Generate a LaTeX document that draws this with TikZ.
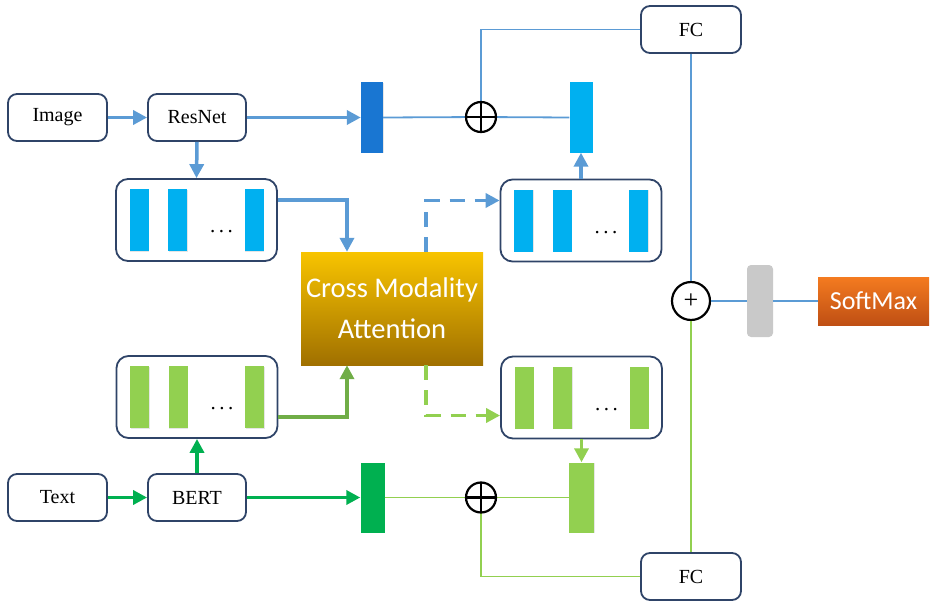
\documentclass[tikz,border=0pt]{standalone}
\usepackage{fontspec}
\setmainfont{Liberation Serif}
\newfontfamily\calfont{Carlito}
\usetikzlibrary{arrows.meta,shadows}
\definecolor{boxc}{HTML}{2F4468}
\definecolor{ablue}{HTML}{5B9BD5}
\definecolor{agreen}{HTML}{00B050}
\definecolor{mgreen}{HTML}{70AD47}
\definecolor{lgreen}{HTML}{92D050}
\definecolor{lblue}{HTML}{00B0F0}
\definecolor{dblue}{HTML}{1976D2}
\definecolor{cmat}{HTML}{F8C400}
\definecolor{cmab}{HTML}{A07000}
\definecolor{smt}{HTML}{F47B20}
\definecolor{smb}{HTML}{BF4F14}
\definecolor{greyb}{HTML}{C9C9C9}
\newcommand\featbox[4]{%
  \node[fbox] (#1) at (#2,#3) {};
  \node[bar=#4] (#1a) at ([xshift=-57.5pt]#1.center) {};
  \node[bar=#4] (#1b) at ([xshift=-19pt]#1.center) {};
  \node[bar=#4] (#1c) at ([xshift=57.5pt]#1.center) {};
  \node[inner sep=0pt,font=\fontsize{21}{21}\selectfont] (#1d) at ([xshift=25pt,yshift=-12pt]#1.center) {.\hspace{3.5pt}.\hspace{3.5pt}.};
}
\begin{document}
\begin{tikzpicture}[x=1pt,y=-1pt,
  box/.style={draw=boxc,line width=1.8pt,rounded corners=9pt,fill=white,inner sep=0pt,
    minimum width=99pt,minimum height=47pt,font=\fontsize{20}{22}\selectfont},
  fbox/.style={draw=boxc,line width=1.8pt,rounded corners=12pt,fill=white,inner sep=0pt,
    minimum width=161pt,minimum height=82pt},
  bar/.style={inner sep=0pt,minimum width=19pt,minimum height=62pt,fill=#1,
    drop shadow={opacity=0.2,shadow xshift=0.8pt,shadow yshift=-0.8pt}},
  vbar/.style={inner sep=0pt,minimum width=23pt,minimum height=70pt,fill=#1,
    drop shadow={opacity=0.2,shadow xshift=0.8pt,shadow yshift=-0.8pt}},
  opl/.style={circle,draw=black,line width=2.2pt,minimum size=30pt,inner sep=0pt,fill=white,
    path picture={\draw[line width=2.2pt] (path picture bounding box.north)--(path picture bounding box.south)
      (path picture bounding box.west)--(path picture bounding box.east);}},
  arr/.style={line width=3.5pt,-{Triangle[length=14pt,width=14pt]}},
  thinl/.style={line width=1.8pt},
  dsh/.style={dash pattern=on 15pt off 10pt}
]
\useasboundingbox (0,0) rectangle (932,602);

% top row
\node[box] (img) at (57.5,117.5) {Image};
\node[box,minimum width=98pt] (res) at (197,117.5) {ResNet};
\node[vbar=dblue,minimum width=22pt] (db) at (372,117.5) {};
\node[vbar=lblue] (lb) at (581,117.5) {};
\node[box,minimum width=100pt] (fc1) at (691,29.5) {FC};

% bottom row
\node[box] (txt) at (57.5,497.5) {Text};
\node[box,minimum width=98pt] (bert) at (197,497.5) {BERT};
\node[vbar=agreen,minimum width=24pt] (gb) at (372.5,497.5) {};
\node[vbar=lgreen,minimum width=25pt] (lgb) at (581.5,497.5) {};
\node[box,minimum width=100pt] (fc2) at (691,576.5) {FC};

% feature boxes
\featbox{fa}{196.5}{220}{lblue}
\featbox{fb}{581}{220.5}{lblue}
\featbox{fc}{197}{397}{lgreen}
\featbox{fd}{581.5}{397.5}{lgreen}

% cross modality attention
\node[top color=cmat,bottom color=cmab,inner sep=0pt,minimum width=182pt,minimum height=113pt,
  text=white,align=center,font=\calfont\fontsize{28.5}{41}\selectfont] (cma) at (392,308.5)
  {Cross Modality\\Attention};

% fusion
\node[fill=greyb,rounded corners=4pt,inner sep=0pt,minimum width=26pt,minimum height=72pt] (gr) at (760,301) {};
\node[top color=smt,bottom color=smb,inner sep=0pt,minimum width=111pt,minimum height=48pt,
  text=white,font=\calfont\fontsize{26}{26}\selectfont] (sm) at (873.5,301) {SoftMax};

% thin lines
\coordinate (j1) at (481,117);
\coordinate (j2) at (481,497.5);
\draw[thinl,ablue] (db.east) -- (j1);
\draw[thinl,ablue] (j1) -- (lb.west);
\draw[thinl,ablue] (fc1.west) -| (j1);
\draw[thinl,lgreen] (gb.east) -- (j2);
\draw[thinl,lgreen] (j2) -- (lgb.west);
\draw[thinl,lgreen] (fc2.west) -| (j2);
\node[opl] (op1) at (j1) {};
\node[opl] (op2) at (j2) {};
\node[circle,draw=black,line width=2.2pt,minimum size=38pt,inner sep=0pt,fill=white,
  font=\fontsize{26}{26}\selectfont] (plus) at (691,301) {+};
\draw[thinl,ablue] (fc1.south) -- (plus.north);
\draw[thinl,lgreen] (fc2.north) -- (plus.south);
\draw[thinl,ablue] (plus.east) -- (gr.west);
\draw[thinl,ablue] (gr.east) -- (sm.west);

% thick arrows
\draw[arr,ablue] (img.east) -- (res.west);
\draw[arr,ablue] (res.east) -- (db.west);
\draw[arr,ablue] (res.south) -- (fa.north);
\draw[arr,ablue] ([yshift=20pt]fa.east) -| ([xshift=-45pt]cma.north);
\draw[arr,ablue,dsh] ([xshift=34pt]cma.north) |- ([yshift=20pt]fb.west);
\draw[arr,ablue] (fb.north) -- (lb.south);

\draw[arr,agreen] (txt.east) -- (bert.west);
\draw[arr,agreen] (bert.east) -- (gb.west);
\draw[arr,agreen] (bert.north) -- (fc.south);
\draw[arr,mgreen] ([yshift=-20pt]fc.east) -| ([xshift=-45pt]cma.south);
\draw[arr,lgreen,dsh] ([xshift=34pt]cma.south) |- ([yshift=-18pt]fd.west);
\draw[arr,lgreen] (fd.south) -- (lgb.north);
\end{tikzpicture}
\end{document}
